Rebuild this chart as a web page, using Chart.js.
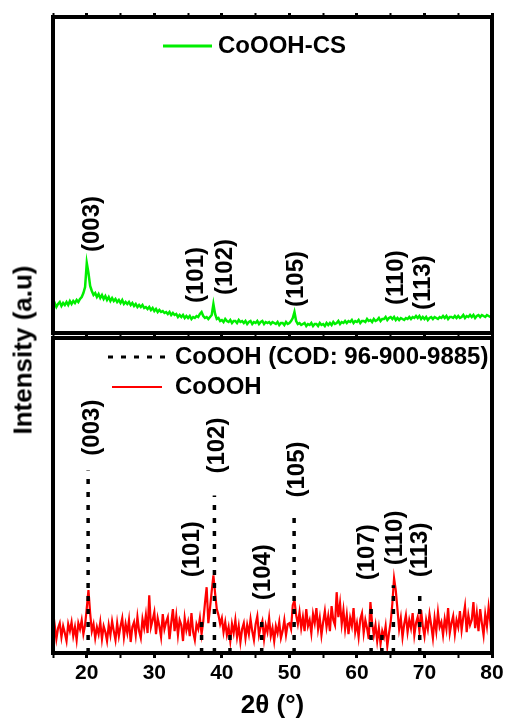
<!DOCTYPE html>
<html>
<head>
<meta charset="utf-8">
<script src="https://cdn.jsdelivr.net/npm/chart.js@4.4.0/dist/chart.umd.min.js"></script>
<style>
  html, body { margin: 0; padding: 0; background: #fff; overflow: hidden; }
  #wrap { position: relative; width: 507px; height: 726px; }
  #topChart { position: absolute; left: 0; top: 0; }
  #botChart { position: absolute; left: 0; top: 336px; }
  #yTitle {
    position: absolute; left: 23px; top: 350px;
    transform: translate(-50%, -50%) rotate(-90deg);
    font: bold 26px 'Liberation Sans', Arial, sans-serif;
    white-space: nowrap; color: #000;
  }
</style>
</head>
<body>
<div id="wrap">
  <canvas id="botChart" width="507" height="390"></canvas>
  <canvas id="topChart" width="507" height="340"></canvas>
  <div id="yTitle">Intensity (a.u)</div>
</div>
<script>
// ── data: 2θ from 15° to 80° sampled every 0.25° ──
const START_ANGLE = 15;
const ANGLE_STEP = 0.25;

// CoOOH-CS (top panel), four points per degree
const greenIntensity = [
  27, 30, 26, 29,   31, 27, 30, 28,   31, 28, 32, 29,   32, 30, 33, 31,   // 15-18
  34, 36, 40, 46,   70, 60, 47, 42,   38, 40, 36, 39,   35, 38, 34, 37,   // 19-22
  33, 36, 32, 35,   32, 34, 31, 33,   30, 33, 29, 31,   29, 31, 28, 30,   // 23-26
  27, 29, 26, 28,   26, 28, 25, 26,   24, 26, 23, 25,   22, 24, 21, 23,   // 27-30
  21, 22, 20, 21,   19, 21, 18, 20,   18, 19, 16, 18,   16, 18, 15, 17,   // 31-34
  15, 17, 14, 16,   15, 17, 16, 19,   21, 17, 15, 16,   14, 16, 18, 29,   // 35-38
  19, 14, 15, 12,   13, 11, 14, 12,   11, 13, 10, 12,   12, 10, 13, 11,   // 39-42
  12, 10, 12,  9,   11, 12,  9, 11,   10, 12,  9, 11,   12,  9, 11, 10,   // 43-46
  11,  9, 11, 10,    9, 11,  8, 10,   10,  8, 11,  9,   10, 12, 15, 21,   // 47-50
  12,  9, 10,  8,    9, 10,  7,  9,    8, 10,  7,  9,    9,  7, 10,  8,   // 51-54
   9,  7, 10,  8,   10,  8, 11,  9,   10, 12,  9, 11,   10, 12, 10, 12,   // 55-58
  11, 13, 10, 12,   11, 13, 10, 12,   12, 11, 14, 12,   13, 11, 14, 12,   // 59-62
  13, 15, 12, 14,   14, 16, 13, 15,   16, 14, 16, 13,   15, 13, 15, 14,   // 63-66
  13, 15, 14, 16,   14, 16, 15, 17,   15, 17, 14, 16,   14, 16, 13, 15,   // 67-70
  16, 14, 16, 15,   14, 16, 15, 17,   15, 17, 14, 16,   16, 15, 17, 15,   // 71-74
  17, 15, 16, 18,   15, 17, 16, 18,   16, 18, 15, 17,   18, 16, 18, 17,   // 75-78
  16, 18, 17, 16,   18                                                     // 79-80
];

// CoOOH (bottom panel)
const redIntensity = [
  18, 28, 14, 25,   30, 16, 27, 20,   12, 29, 22, 31,   17, 26, 13, 30,   // 15-18
  24, 33, 19, 28,   45, 63, 40, 22,   29, 15, 26, 19,   31, 14, 27, 21,   // 19-22
  12, 28, 18, 32,   22, 13, 30, 17,   27, 35, 16, 29,   20, 33, 11, 26,   // 23-26
  31, 18, 36, 22,   15, 34, 25, 38,   20, 58, 26, 33,   41, 19, 35, 27,   // 27-30
  16, 39, 24, 31,   36, 14, 30, 44,   22, 37, 18, 33,   28, 12, 35, 23,   // 31-34
  31, 17, 40, 21,   13, 29, 24, 35,   19, 32, 50, 66,   30, 45, 62, 78,   // 35-38
  60, 44, 38, 29,   35, 21, 31, 18,   26, 12, 29, 20,   33, 16, 27, 11,   // 39-42
  24, 30, 15, 28,   19, 34, 22, 13,   29, 37, 18, 26,   32, 14, 28, 21,   // 43-46
  35, 17, 25, 12,   27, 20, 31, 15,   22, 33, 18, 29,   30, 24, 48, 53,   // 47-50
  38, 29, 41, 25,   36, 22, 44, 27,   33, 20, 39, 30,   45, 24, 35, 18,   // 51-54
  31, 42, 26, 37,   22, 47, 33, 28,   61, 36, 50, 29,   43, 24, 38, 19,   // 55-58
  35, 27, 45, 21,   30, 16, 34, 40,   20, 33, 25, 14,   51, 30, 18, 28,   // 59-62
  12, 25,  9, 22,   16, 27,  7, 20,   31, 50, 75, 63,   44, 24, 35, 16,   // 63-66
  29, 38, 21, 33,   25, 40, 18, 30,   36, 22, 43, 27,   17, 33, 24, 39,   // 67-70
  28, 15, 35, 22,   41, 26, 31, 18,   34, 24, 45, 20,   30, 37, 19, 33,   // 71-74
  26, 42, 23, 36,   47, 21, 38, 28,   33, 51, 25, 40,   22, 44, 30, 18,   // 75-78
  39, 27, 46, 31,   14                                                     // 79-80
];

const twoTheta = greenIntensity.map((_, i) => START_ANGLE + i * ANGLE_STEP);

// reference pattern CoOOH (COD: 96-900-9885)
const codPeaks = [20.2, 37.0, 38.9, 41.2, 45.9, 50.7, 62.1, 63.7, 65.4, 69.3];
const codHeights = [183, 36, 158, 23, 36, 143, 51, 23, 68, 60];

// Miller index labels: text, 2θ of label, intensity where the text starts
const topHkl = ['(003)', '(101)', '(102)', '(105)', '(110)', '(113)'];
const topHklAt = [20.9, 36.2, 40.5, 51.0, 65.8, 69.8];
const topHklBase = [81, 30, 38, 26, 28, 23];

const botHkl = ['(003)', '(101)', '(102)', '(104)', '(105)', '(107)', '(110)', '(113)'];
const botHklAt = [20.85, 35.6, 39.4, 46.1, 51.15, 61.5, 65.7, 69.4];
const botHklBase = [198, 76, 180, 53, 156, 73, 88, 76];

const xTickLabels = [20, 30, 40, 50, 60, 70, 80];

// ── helpers ──
const FONT = "'Liberation Sans', Arial, sans-serif";

function pairs(ys) {
  return ys.map((y, i) => ({ x: twoTheta[i], y }));
}

function codSegments() {
  const pts = [];
  codPeaks.forEach((p, i) => {
    pts.push({ x: p, y: 0 }, { x: p, y: codHeights[i] }, { x: p, y: null });
  });
  return pts;
}

function xAxis(position, showLabels, tickLength, boxHeight) {
  return {
    type: 'linear',
    position,
    min: 15,
    max: 80,
    border: { display: false },
    grid: {
      drawOnChartArea: false,
      drawTicks: true,
      tickLength,
      tickColor: '#000',
      tickWidth: c => (c.tick && c.tick.value % 10 === 0 ? 3 : 2),
    },
    ticks: {
      display: showLabels,
      stepSize: 5,
      autoSkip: false,
      maxRotation: 0,
      color: '#000',
      padding: 3,
      font: { family: FONT, size: 21, weight: 'bold' },
      callback: v => (xTickLabels.includes(v) ? String(v) : ''),
    },
    title: {
      display: showLabels,
      text: '2θ (°)',
      color: '#000',
      font: { family: FONT, size: 26, weight: 'bold' },
      padding: { top: 0, bottom: 5 },
    },
    afterFit: s => { s.height = boxHeight; },
  };
}

const yAxis = { display: false, min: 0, max: 316 };

// labels, legend and thick frame
const panelDecor = {
  id: 'panelDecor',
  afterDatasetsDraw(chart, args, opts) {
    const { ctx, chartArea: a } = chart;
    const x = chart.scales.x, y = chart.scales.y;
    ctx.save();
    ctx.font = 'bold 24px ' + FONT;
    ctx.fillStyle = '#000';
    ctx.textBaseline = 'middle';
    ctx.textAlign = 'left';

    opts.labels.forEach((t, i) => {
      ctx.save();
      ctx.translate(x.getPixelForValue(opts.at[i]), y.getPixelForValue(opts.base[i]));
      ctx.rotate(-Math.PI / 2);
      ctx.fillText(t, 0, 0);
      ctx.restore();
    });

    opts.legend.forEach(item => {
      const ds = chart.data.datasets[item.dataset];
      ctx.beginPath();
      ctx.strokeStyle = ds.borderColor;
      ctx.lineWidth = item.lineWidth;
      ctx.setLineDash(ds.borderDash || []);
      ctx.moveTo(item.x0, item.y);
      ctx.lineTo(item.x1, item.y);
      ctx.stroke();
      ctx.setLineDash([]);
      ctx.fillText(ds.label, item.tx, item.y);
    });

    ctx.lineWidth = 4;
    ctx.strokeStyle = '#000';
    ctx.strokeRect(a.left, a.top, a.right - a.left, a.bottom - a.top);
    ctx.restore();
  },
};

const baseOptions = {
  responsive: false,
  animation: false,
  events: [],
  plugins: { legend: { display: false }, tooltip: { enabled: false } },
  elements: { point: { radius: 0 }, line: { tension: 0 } },
};

// ── top panel: CoOOH-CS ──
new Chart(document.getElementById('topChart'), {
  type: 'line',
  data: {
    datasets: [{
      label: 'CoOOH-CS',
      data: pairs(greenIntensity),
      borderColor: '#00ee00',
      borderWidth: 2.5,
    }],
  },
  options: {
    ...baseOptions,
    layout: { padding: { left: 53, right: 15, top: 0, bottom: 0 } },
    scales: {
      x: xAxis('bottom', false, 5, 7),
      xTop: xAxis('top', false, 4, 17),
      y: yAxis,
    },
    plugins: {
      ...baseOptions.plugins,
      panelDecor: {
        labels: topHkl, at: topHklAt, base: topHklBase,
        legend: [{ dataset: 0, x0: 163, x1: 212, y: 46, tx: 218, lineWidth: 3 }],
      },
    },
  },
  plugins: [panelDecor],
});

// ── bottom panel: CoOOH + reference lines ──
new Chart(document.getElementById('botChart'), {
  type: 'line',
  data: {
    datasets: [{
      label: 'CoOOH (COD: 96-900-9885)',
      data: codSegments(),
      borderColor: '#000',
      borderWidth: 3.5,
      borderDash: [5, 8],
      spanGaps: false,
      order: 0,
    }, {
      label: 'CoOOH',
      data: pairs(redIntensity),
      borderColor: '#ff0000',
      borderWidth: 2.2,
      order: 1,
    }],
  },
  options: {
    ...baseOptions,
    layout: { padding: { left: 53, right: 15, top: 2, bottom: 0 } },
    scales: {
      x: xAxis('bottom', true, 5, 73),
      y: yAxis,
    },
    plugins: {
      ...baseOptions.plugins,
      panelDecor: {
        labels: botHkl, at: botHklAt, base: botHklBase,
        legend: [
          { dataset: 0, x0: 108, x1: 166, y: 21, tx: 175, lineWidth: 3 },
          { dataset: 1, x0: 112, x1: 162, y: 51, tx: 175, lineWidth: 2 },
        ],
      },
    },
  },
  plugins: [panelDecor],
});
</script>
</body>
</html>
